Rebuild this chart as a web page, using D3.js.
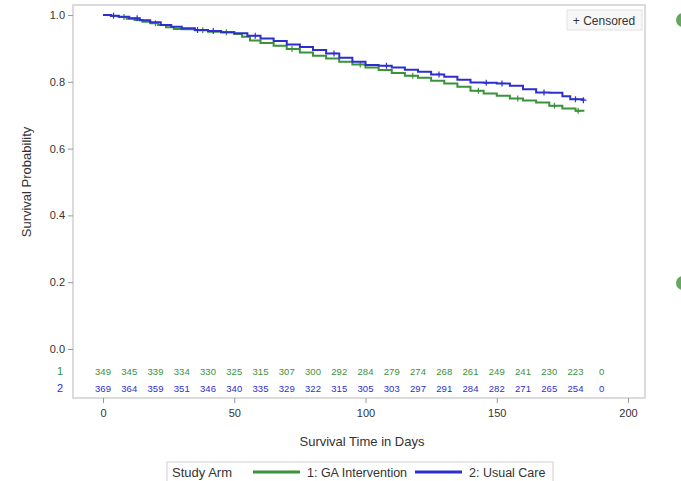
<!DOCTYPE html>
<html>
<head>
<meta charset="utf-8">
<script src="https://cdn.jsdelivr.net/npm/d3@7"></script>
<style>
  body { margin: 0; background: #fff; }
  svg { display: block; font-family: "Liberation Sans", Arial, sans-serif; }
  .tick text { fill: #333; font-size: 11px; }
  .tick line { stroke: #999; }
</style>
</head>
<body>
<svg id="chart" width="681" height="481"></svg>
<script>
// Kaplan-Meier step values (day, survival)
const gaTimes = [0, 3, 6, 9, 12, 15, 18, 21, 24, 27, 30, 35, 40, 45, 50, 53, 56, 60, 65, 70, 75, 80, 85, 90, 95, 100, 105, 110, 115, 120, 125, 130, 135, 140, 145, 150, 155, 160, 165, 170, 175, 180, 183];
const gaSurv = [1.0, 0.997, 0.994, 0.989, 0.985, 0.98, 0.975, 0.97, 0.963, 0.958, 0.957, 0.954, 0.95, 0.948, 0.943, 0.935, 0.924, 0.916, 0.908, 0.898, 0.888, 0.878, 0.87, 0.86, 0.852, 0.843, 0.835, 0.826, 0.818, 0.812, 0.803, 0.795, 0.785, 0.773, 0.765, 0.758, 0.75, 0.744, 0.738, 0.728, 0.72, 0.713, 0.71];
const ucTimes = [0, 3, 6, 10, 14, 18, 22, 26, 30, 35, 40, 45, 50, 55, 60, 65, 70, 75, 80, 85, 90, 95, 100, 105, 110, 115, 120, 125, 130, 135, 140, 145, 150, 155, 160, 165, 170, 175, 178, 183];
const ucSurv = [1.0, 0.998, 0.995, 0.99, 0.984, 0.978, 0.97, 0.965, 0.96, 0.955, 0.952, 0.948, 0.945, 0.938, 0.93, 0.922, 0.912, 0.904, 0.895, 0.885, 0.872, 0.86, 0.85, 0.848, 0.843, 0.836, 0.83, 0.822, 0.815, 0.806, 0.798, 0.797, 0.795, 0.788, 0.778, 0.768, 0.767, 0.757, 0.748, 0.745];

// censored observation times
const gaCensor = [8, 20, 38, 47, 72, 98, 118, 143, 158, 172, 181];
const ucCensor = [4, 13, 36, 42, 58, 88, 108, 128, 146, 152, 168, 180, 183];

// number at risk
const riskTimes = [0, 10, 20, 30, 40, 50, 60, 70, 80, 90, 100, 110, 120, 130, 140, 150, 160, 170, 180, 190];
const gaRisk = [349, 345, 339, 334, 330, 325, 315, 307, 300, 292, 284, 279, 274, 268, 261, 249, 241, 230, 223, 0];
const ucRisk = [369, 364, 359, 351, 346, 340, 335, 329, 322, 315, 305, 303, 297, 291, 284, 282, 271, 265, 254, 0];

const xTicks = [0, 50, 100, 150, 200];
const yTicks = [0, 0.2, 0.4, 0.6, 0.8, 1.0];

const GREEN = '#3a923a';
const BLUE = '#2e2ed0';

const svg = d3.select('#chart');

const frame = {left: 73, top: 5, right: 645, bottom: 398};

const xScale = d3.scaleLinear().domain([0, 200]).range([103, 628]);
const yScale = d3.scaleLinear().domain([0, 1]).range([349, 15]);

// plot wall
svg.append('rect')
    .attr('x', frame.left)
    .attr('y', frame.top)
    .attr('width', frame.right - frame.left)
    .attr('height', frame.bottom - frame.top)
    .attr('fill', '#fff')
    .attr('stroke', '#cfcfcf')
    .attr('stroke-width', 1.5);

// axes
const yAxis = d3.axisLeft(yScale)
    .tickValues(yTicks)
    .tickSize(5)
    .tickPadding(3)
    .tickFormat(d3.format('.1f'));
svg.append('g')
    .attr('transform', `translate(${frame.left},0)`)
    .call(yAxis)
    .call(g => g.select('.domain').remove());

const xAxis = d3.axisBottom(xScale)
    .tickValues(xTicks)
    .tickSize(5)
    .tickPadding(6)
    .tickFormat(d3.format('d'));
svg.append('g')
    .attr('transform', `translate(0,${frame.bottom})`)
    .call(xAxis)
    .call(g => g.select('.domain').remove());

// axis titles
svg.append('text')
    .attr('x', 362)
    .attr('y', 446)
    .attr('text-anchor', 'middle')
    .attr('font-size', 13)
    .attr('fill', '#333')
    .text('Survival Time in Days');

svg.append('text')
    .attr('transform', 'translate(31,182) rotate(-90)')
    .attr('text-anchor', 'middle')
    .attr('font-size', 13)
    .attr('fill', '#333')
    .text('Survival Probability');

// survival curves
const line = d3.line()
    .x(d => xScale(d[0]))
    .y(d => yScale(d[1]))
    .curve(d3.curveStepAfter);

const series = [
  {times: gaTimes, surv: gaSurv, censor: gaCensor, color: GREEN},
  {times: ucTimes, surv: ucSurv, censor: ucCensor, color: BLUE}
];

series.forEach(s => {
  const pts = s.times.map((t, i) => [t, s.surv[i]]);
  svg.append('path')
      .datum(pts)
      .attr('d', line)
      .attr('fill', 'none')
      .attr('stroke', s.color)
      .attr('stroke-width', 2);

  const survAt = t => {
    let v = s.surv[0];
    s.times.forEach((tt, i) => { if (tt <= t) v = s.surv[i]; });
    return v;
  };
  svg.append('g').selectAll('path')
      .data(s.censor)
    .join('path')
      .attr('d', d => {
        const x = xScale(d), y = yScale(survAt(d));
        return `M${x - 3},${y}H${x + 3}M${x},${y - 3}V${y + 3}`;
      })
      .attr('stroke', s.color)
      .attr('stroke-width', 1.2);
});

// number at risk rows
const riskRows = [
  {label: '1', values: gaRisk, color: GREEN, y: 375},
  {label: '2', values: ucRisk, color: BLUE, y: 392}
];
riskRows.forEach(r => {
  svg.append('text')
      .attr('x', 63)
      .attr('y', r.y)
      .attr('text-anchor', 'end')
      .attr('font-size', 11)
      .attr('fill', r.color)
      .text(r.label);
  svg.append('g').selectAll('text')
      .data(r.values)
    .join('text')
      .attr('x', (d, i) => xScale(riskTimes[i]))
      .attr('y', r.y)
      .attr('text-anchor', 'middle')
      .attr('font-size', 9.5)
      .attr('fill', r.color)
      .text(d => d);
});

// censored inset legend
svg.append('rect')
    .attr('x', 567).attr('y', 10)
    .attr('width', 75).attr('height', 20)
    .attr('fill', '#f7f7f7')
    .attr('stroke', '#e2e2e2');
svg.append('text')
    .attr('x', 604).attr('y', 24.5)
    .attr('text-anchor', 'middle')
    .attr('font-size', 12)
    .attr('fill', '#333')
    .text('+ Censored');

// bottom legend
svg.append('rect')
    .attr('x', 167).attr('y', 462)
    .attr('width', 386).attr('height', 24)
    .attr('fill', '#fff')
    .attr('stroke', '#cfcfcf');
svg.append('text')
    .attr('x', 172).attr('y', 477)
    .attr('font-size', 13)
    .attr('fill', '#333')
    .text('Study Arm');
const legendItems = [
  {label: '1: GA Intervention', color: GREEN, x: 253},
  {label: '2: Usual Care', color: BLUE, x: 415}
];
legendItems.forEach(it => {
  svg.append('line')
      .attr('x1', it.x).attr('x2', it.x + 47)
      .attr('y1', 472).attr('y2', 472)
      .attr('stroke', it.color)
      .attr('stroke-width', 3);
  svg.append('text')
      .attr('x', it.x + 54).attr('y', 477)
      .attr('font-size', 12.5)
      .attr('fill', '#333')
      .text(it.label);
});

// partial green markers at the right edge
[20, 283].forEach(cy => {
  svg.append('circle')
      .attr('cx', 683).attr('cy', cy)
      .attr('r', 7)
      .attr('fill', GREEN)
      .attr('opacity', 0.8);
});
</script>
</body>
</html>
